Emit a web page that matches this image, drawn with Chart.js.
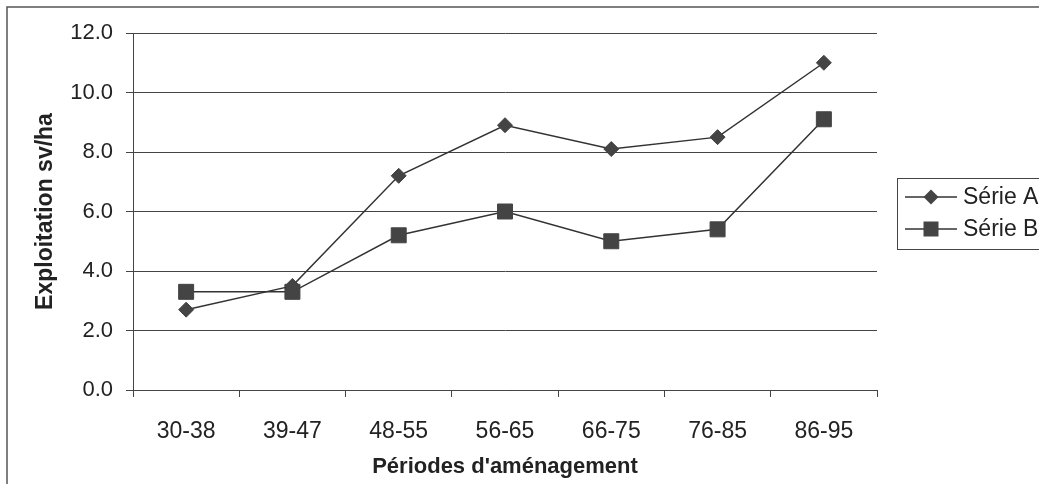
<!DOCTYPE html>
<html>
<head>
<meta charset="utf-8">
<script src="https://cdn.jsdelivr.net/npm/chart.js@4/dist/chart.umd.min.js"></script>
<style>
  html, body { margin: 0; padding: 0; background: #fff; }
  #wrap { width: 1039px; height: 484px; }
</style>
</head>
<body>
<div id="wrap"><canvas id="expChart"></canvas></div>
<script>
// ===== Data =====
const periodes = ['30-38', '39-47', '48-55', '56-65', '66-75', '76-85', '86-95'];
const serieA = [2.7, 3.5, 7.2, 8.9, 8.1, 8.5, 11.0];
const serieB = [3.3, 3.3, 5.2, 6.0, 5.0, 5.4, 9.1];
const yTicks = [0, 2, 4, 6, 8, 10, 12];

const inkLine = '#333';
const inkMark = '#444';
const fontFam = '"Liberation Sans", Arial, sans-serif';

// ===== Cadre + légende =====
const cadrePlugin = {
  id: 'cadre',
  afterDraw(chart) {
    const ctx = chart.ctx;
    ctx.save();
    ctx.strokeStyle = '#555';
    ctx.lineWidth = 1.5;
    ctx.strokeRect(7, 7, 1100, 600);

    // boîte de légende
    ctx.lineWidth = 1;
    ctx.strokeStyle = '#444';
    ctx.strokeRect(897.5, 178.5, 160, 71);

    const rows = [197, 229];
    chart.data.datasets.forEach((ds, i) => {
      const y = rows[i];
      ctx.strokeStyle = inkLine;
      ctx.lineWidth = 1.5;
      ctx.beginPath();
      ctx.moveTo(905, y);
      ctx.lineTo(957, y);
      ctx.stroke();
      ctx.fillStyle = inkMark;
      ctx.beginPath();
      if (ds.pointStyle === 'rectRot') {
        ctx.moveTo(931 - 7.5, y);
        ctx.lineTo(931, y - 7.5);
        ctx.lineTo(931 + 7.5, y);
        ctx.lineTo(931, y + 7.5);
        ctx.closePath();
      } else {
        ctx.rect(931 - 7.5, y - 7.5, 15, 15);
      }
      ctx.fill();
      ctx.fillStyle = '#222';
      ctx.font = '23px ' + fontFam;
      ctx.textBaseline = 'middle';
      ctx.textAlign = 'left';
      ctx.fillText(ds.label, 963, y + 1);
    });
    ctx.restore();
  }
};

// ===== Chart.js - Exploitation =====
const ctx = document.getElementById('expChart').getContext('2d');
new Chart(ctx, {
  type: 'line',
  data: {
    labels: periodes,
    datasets: [{
      label: 'Série A',
      data: serieA,
      borderColor: inkLine,
      borderWidth: 1.5,
      pointStyle: 'rectRot',
      pointRadius: 7.5,
      pointBackgroundColor: inkMark,
      pointBorderColor: inkMark,
      pointBorderWidth: 1,
      tension: 0
    }, {
      label: 'Série B',
      data: serieB,
      borderColor: inkLine,
      borderWidth: 1.5,
      pointStyle: 'rect',
      pointRadius: 10.6,
      pointBackgroundColor: inkMark,
      pointBorderColor: inkMark,
      pointBorderWidth: 1,
      tension: 0
    }]
  },
  options: {
    responsive: true,
    maintainAspectRatio: false,
    animation: false,
    layout: {
      padding: { left: 0, right: 162, top: 33, bottom: 0 }
    },
    plugins: {
      legend: { display: false },
      tooltip: { enabled: false }
    },
    scales: {
      x: {
        offset: true,
        afterFit: s => { s.height = 94; },
        grid: {
          offset: true,
          drawOnChartArea: false,
          drawTicks: true,
          tickLength: 7,
          color: '#444'
        },
        border: { display: true, color: '#444', width: 1 },
        ticks: {
          color: '#222',
          padding: 21,
          maxRotation: 0,
          font: { family: fontFam, size: 23 }
        },
        title: {
          display: true,
          text: "Périodes d'aménagement",
          color: '#222',
          padding: { top: 0, bottom: 4 },
          font: { family: fontFam, size: 22, weight: 'bold' }
        }
      },
      y: {
        min: 0,
        max: 12,
        afterFit: s => { s.width = 133; },
        afterBuildTicks: s => { s.ticks = yTicks.map(v => ({ value: v })); },
        grid: {
          color: '#444',
          lineWidth: 1,
          tickLength: 7
        },
        border: { display: true, color: '#444', width: 1 },
        ticks: {
          color: '#222',
          padding: 13,
          callback: v => v.toFixed(1),
          font: { family: fontFam, size: 22 }
        },
        title: {
          display: true,
          text: 'Exploitation sv/ha',
          color: '#222',
          padding: { top: 32, bottom: 0 },
          font: { family: fontFam, size: 23, weight: 'bold' }
        }
      }
    }
  },
  plugins: [cadrePlugin]
});
</script>
</body>
</html>
